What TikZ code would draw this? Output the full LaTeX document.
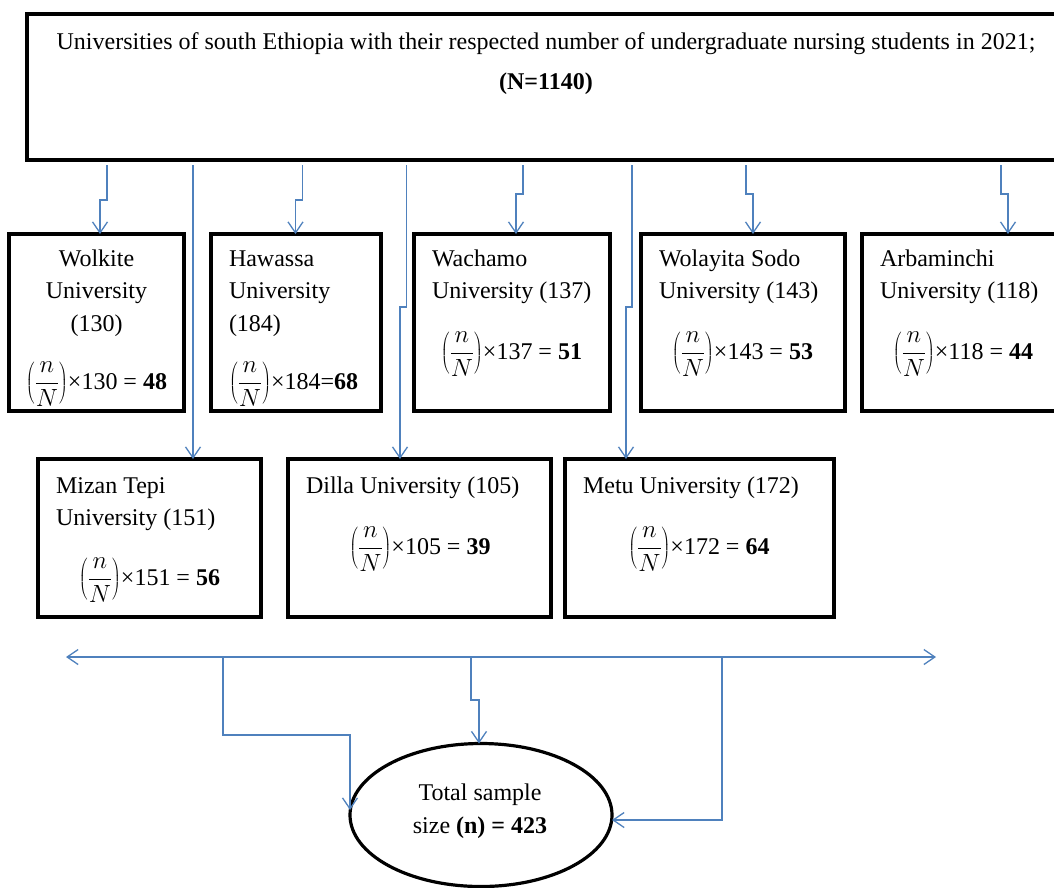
\documentclass[tikz,border=0pt]{standalone}
\usepackage{fontspec}
\setmainfont{Liberation Serif}
\usetikzlibrary{arrows.meta,shapes.geometric,calc}
\definecolor{conncol}{RGB}{79,129,189}
\newcommand{\nfrac}{$\left(\displaystyle\frac{n}{N}\right)$}
\tikzset{
  box/.style={draw=black, line width=3.2pt, rectangle, inner sep=0pt, outer sep=0pt},
  txt/.style={inner sep=0pt, outer sep=0pt, font=\fontsize{24}{28}\selectfont},
  conn/.style={draw=conncol, line width=1.3pt, -{Straight Barb[length=11pt,width=15pt]}},
  conntwo/.style={draw=conncol, line width=1.3pt, {Straight Barb[length=11pt,width=15pt]}-{Straight Barb[length=11pt,width=15pt]}},
  plain/.style={draw=conncol, line width=1.3pt}
}
\begin{document}
\begin{tikzpicture}[x=1pt,y=-1pt]
\useasboundingbox (0,0) rectangle (1054,887);
\clip (0,0) rectangle (1054,887);
% top box
\node[box, minimum width=1039pt, minimum height=146pt] (top) at (546.5,87) {};
\node[txt, anchor=base] (t1) at (546,49) {Universities of south Ethiopia with their respected number of undergraduate nursing students in 2021;};
\node[txt, anchor=base] (t2) at (546,89) {\textbf{(N=1140)}};
% row 1
\node[box, minimum width=175pt, minimum height=177pt] (wk) at (96.5,322.5) {};
\node[box, minimum width=170pt, minimum height=177pt] (hw) at (296,322.5) {};
\node[box, minimum width=196pt, minimum height=177pt] (wc) at (512,322.5) {};
\node[box, minimum width=204pt, minimum height=177pt] (ws) at (743,322.5) {};
\node[box, minimum width=204pt, minimum height=177pt] (ab) at (964,322.5) {};
% row 2
\node[box, minimum width=223pt, minimum height=158pt] (mz) at (149.5,538) {};
\node[box, minimum width=263pt, minimum height=158pt] (dl) at (419.5,538) {};
\node[box, minimum width=269pt, minimum height=158pt] (mt) at (699.5,538) {};
% ellipse
\node[draw=black, line width=3.2pt, ellipse, inner sep=0pt, outer sep=0pt, minimum width=262pt, minimum height=143pt] (el) at (481,815) {};
% texts row 1
\node[txt, anchor=base] (wk1) at (96.5,266) {Wolkite};
\node[txt, anchor=base] (wk2) at (96.5,298) {University};
\node[txt, anchor=base] (wk3) at (96.5,331) {(130)};
\node[txt, anchor=base] (wkf) at (96.5,389) {\nfrac×130 = \textbf{48}};
\node[txt, anchor=base west] (hw1) at (229,266) {Hawassa};
\node[txt, anchor=base west] (hw2) at (229,298) {University};
\node[txt, anchor=base west] (hw3) at (229,331) {(184)};
\node[txt, anchor=base west] (hwf) at (229,389) {\nfrac×184=\textbf{68}};
\node[txt, anchor=base west] (wc1) at (432,266) {Wachamo};
\node[txt, anchor=base west] (wc2) at (432,298) {University (137)};
\node[txt, anchor=base] (wcf) at (511.5,359) {\nfrac×137 = \textbf{51}};
\node[txt, anchor=base west] (ws1) at (659,266) {Wolayita Sodo};
\node[txt, anchor=base west] (ws2) at (659,298) {University (143)};
\node[txt, anchor=base] (wsf) at (742.5,359) {\nfrac×143 = \textbf{53}};
\node[txt, anchor=base west] (ab1) at (880,266) {Arbaminchi};
\node[txt, anchor=base west] (ab2) at (880,298) {University (118)};
\node[txt, anchor=base] (abf) at (963,359) {\nfrac×118 = \textbf{44}};
% texts row 2
\node[txt, anchor=base west] (mz1) at (56,493) {Mizan Tepi};
\node[txt, anchor=base west] (mz2) at (56,525) {University (151)};
\node[txt, anchor=base] (mzf) at (149.5,585) {\nfrac×151 = \textbf{56}};
\node[txt, anchor=base west] (dl1) at (306,493) {Dilla University (105)};
\node[txt, anchor=base] (dlf) at (420,554) {\nfrac×105 = \textbf{39}};
\node[txt, anchor=base west] (mt1) at (583,493) {Metu University (172)};
\node[txt, anchor=base] (mtf) at (699,554) {\nfrac×172 = \textbf{64}};
% ellipse texts
\node[txt, anchor=base] (el1) at (480,800) {Total sample};
\node[txt, anchor=base] (el2) at (480,833) {size \textbf{(n) = 423}};
% connectors from top box
\draw[conn] ($(top.south west)+(80,5)$) -- ++(0,35) -- ++(-7,0) -- ([xshift=3.5pt]wk.north);
\draw[conn] ($(top.south west)+(166,5)$) -- ([xshift=43.5pt]mz.north);
\draw[conn] ($(top.south west)+(275.5,5)$) -- ++(0,35) -- ++(-7,0) -- ([xshift=-0.5pt]hw.north);
\draw[conn] ($(top.south west)+(379.7,5)$) -- ++(0,142) -- ++(-6.7,0) -- ([xshift=-19.5pt]dl.north);
\draw[conn] ($(top.south west)+(496,5)$) -- ++(0,29) -- ++(-7,0) -- ([xshift=4pt]wc.north);
\draw[conn] ($(top.south west)+(605,5)$) -- ++(0,142) -- ++(-6,0) -- ([xshift=-73.5pt]mt.north);
\draw[conn] ($(top.south west)+(719,5)$) -- ++(0,29) -- ++(7,0) -- ([xshift=10pt]ws.north);
\draw[conn] ($(top.south west)+(974,5)$) -- ++(0,29) -- ++(7,0) -- ([xshift=44pt]ab.north);
% bottom collector
\coordinate (hl) at (66,657);
\coordinate (hr) at (936,657);
\coordinate (b1) at (223,657);
\coordinate (b2) at (471,657);
\coordinate (b3) at (722,657);
\draw[conntwo] (hl) -- (hr);
\draw[conn] (b1) -- ++(0,78) -- ++(127,0) -- ([yshift=5pt]el.west);
\draw[conn] (b2) -- ++(0,43) -- ++(8,0) -- ([xshift=-2pt]el.north);
\draw[conn] (b3) |- ([yshift=-5pt]el.east);
\end{tikzpicture}
\end{document}
